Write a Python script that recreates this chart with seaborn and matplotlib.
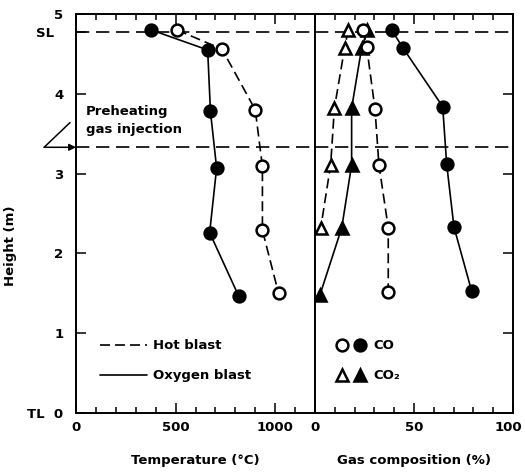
import matplotlib
matplotlib.use("Agg")
import matplotlib.pyplot as plt
import matplotlib.transforms as mtransforms
import seaborn as sns
from matplotlib.lines import Line2D
from matplotlib.legend_handler import HandlerTuple
from matplotlib.ticker import MultipleLocator

# --- DATA ---
SL_HEIGHT = 4.78
INJECTION_HEIGHT = 3.33

# Temperature profiles: height (m) / temperature (degC)
hot_temp_height = [4.80, 4.56, 3.80, 3.09, 2.29, 1.50]
hot_temp = [507, 733, 900, 936, 936, 1017]
oxy_temp_height = [4.80, 4.55, 3.78, 3.07, 2.26, 1.47]
oxy_temp = [378, 661, 675, 706, 671, 816]

# Gas composition profiles: height (m) / percent
hot_co_height = [4.80, 4.59, 3.81, 3.11, 2.32, 1.52]
hot_co = [24.4, 26.1, 30.3, 32.3, 37.0, 37.0]
oxy_co_height = [4.80, 4.58, 3.84, 3.12, 2.33, 1.53]
oxy_co = [38.7, 44.3, 64.5, 66.5, 70.2, 79.1]
hot_co2_height = [4.80, 4.58, 3.82, 3.11, 2.32]
hot_co2 = [16.8, 15.0, 9.8, 7.9, 2.9]
oxy_co2_height = [4.80, 4.58, 3.82, 3.11, 2.32, 1.48]
oxy_co2 = [26.5, 23.6, 18.5, 18.5, 13.5, 2.5]

y_ticks = [0, 1, 2, 3, 4, SL_HEIGHT, 5]
y_tick_labels = ["TL  0", "1", "2", "3", "4", "SL  ", "5"]
temp_ticks = [0, 500, 1000]
gas_ticks = [0, 50, 100]

FS = 9.5
DASH = (0, (6, 3))


def draw(ax, x, y, marker, filled, dashed):
    sns.lineplot(x=x, y=y, ax=ax, sort=False, estimator=None, color="black",
                 linewidth=1.2, linestyle=DASH if dashed else "-",
                 marker=marker, markersize=8.5 if marker == "o" else 9,
                 markerfacecolor="black" if filled else "white",
                 markeredgecolor="black", markeredgewidth=1.8, zorder=3)


def generate_graph():
    sns.set_style("ticks")
    plt.rcParams["font.family"] = ["DejaVu Sans"]
    plt.rcParams["font.weight"] = "bold"
    for key in ("text.color", "axes.labelcolor", "xtick.color", "ytick.color",
                "axes.edgecolor"):
        plt.rcParams[key] = "black"

    fig = plt.figure(figsize=(5.25, 4.72), dpi=100)
    ax1 = fig.add_axes([0.1448, 0.125, 0.4552, 0.8453])
    ax2 = fig.add_axes([0.6, 0.125, 0.3771, 0.8453])

    # --- Temperature panel ---
    draw(ax1, hot_temp, hot_temp_height, "o", False, True)
    draw(ax1, oxy_temp, oxy_temp_height, "o", True, False)

    # --- Gas composition panel ---
    draw(ax2, hot_co2, hot_co2_height, "^", False, True)
    draw(ax2, oxy_co2, oxy_co2_height, "^", True, False)
    draw(ax2, hot_co, hot_co_height, "o", False, True)
    draw(ax2, oxy_co, oxy_co_height, "o", True, False)

    for ax in (ax1, ax2):
        ax.axhline(SL_HEIGHT, color="black", lw=1.2, ls=(0, (8, 4)), zorder=1)
        ax.axhline(INJECTION_HEIGHT, color="black", lw=1.2, ls=(0, (8, 4)), zorder=1)
        ax.set_ylim(0, 5)
        for s in ax.spines.values():
            s.set_linewidth(1.4)
        ax.tick_params(which="both", direction="in", top=True, width=1.1,
                       labelsize=FS, pad=6)
        ax.tick_params(which="major", length=7)
        ax.tick_params(which="minor", length=4)
        ax.set_ylabel("")

    ax1.set_xlim(0, 1200)
    ax1.set_xticks(temp_ticks)
    ax1.xaxis.set_minor_locator(MultipleLocator(100))
    ax1.set_yticks(y_ticks)
    ax1.set_yticklabels(y_tick_labels)
    ax1.tick_params(axis="y", right=False, pad=9)
    ax1.set_xlabel("Temperature (°C)", fontsize=FS, fontweight="bold", labelpad=14)
    ax1.set_ylabel("Height (m)", fontsize=FS, fontweight="bold")
    ax1.yaxis.set_label_coords(-0.245, 0.42)

    ax2.set_xlim(0, 100)
    ax2.set_xticks(gas_ticks)
    ax2.xaxis.set_minor_locator(MultipleLocator(10))
    ax2.set_yticks([1, 2, 3, 4])
    ax2.tick_params(axis="y", left=False, right=True, labelleft=False)
    ax2.set_xlabel("Gas composition (%)", fontsize=FS, fontweight="bold", labelpad=14)

    # keep the "100" label inside the figure edge
    fig.canvas.draw()
    last = ax2.get_xticklabels()[-1]
    last.set_transform(last.get_transform()
                       + mtransforms.ScaledTranslation(-5 / 100, 0, fig.dpi_scale_trans))

    # Preheating gas injection marker
    ax1.text(50, 3.66, "Preheating\ngas injection", ha="left", va="center",
             fontsize=FS, fontweight="bold", linespacing=1.5)
    ax1.annotate("", xy=(0, INJECTION_HEIGHT), xytext=(-160, INJECTION_HEIGHT),
                 arrowprops=dict(arrowstyle="-|>", color="black", lw=1.1,
                                 mutation_scale=10, shrinkA=0, shrinkB=0),
                 annotation_clip=False)
    ax1.annotate("", xy=(-160, INJECTION_HEIGHT), xytext=(-30, 3.64),
                 arrowprops=dict(arrowstyle="-", color="black", lw=1.1,
                                 shrinkA=0, shrinkB=0),
                 annotation_clip=False)

    # Legends
    line_handles = [Line2D([], [], color="black", lw=1.2, ls=DASH),
                    Line2D([], [], color="black", lw=1.2)]
    ax1.legend(line_handles, ["Hot blast", "Oxygen blast"], loc="center left",
               bbox_to_anchor=(0.1, 0.131), frameon=False, borderpad=0,
               borderaxespad=0, handlelength=3.6, handletextpad=0.4,
               labelspacing=1.3, prop=dict(size=FS, weight="bold"))

    def mk(m, filled):
        return Line2D([], [], ls="", marker=m, markersize=8.5, color="black",
                      markerfacecolor="black" if filled else "white",
                      markeredgewidth=1.8)

    gas_handles = [(mk("o", False), mk("o", True)), (mk("^", False), mk("^", True))]
    ax2.legend(gas_handles, ["CO", "CO₂"], loc="center left",
               bbox_to_anchor=(0.1, 0.131), frameon=False, borderpad=0,
               borderaxespad=0, handlelength=2.4, handletextpad=0.5,
               labelspacing=1.3, prop=dict(size=FS, weight="bold"),
               handler_map={tuple: HandlerTuple(ndivide=None, pad=0.3)})

    fig.savefig("out.png", dpi=100)


if __name__ == "__main__":
    generate_graph()
